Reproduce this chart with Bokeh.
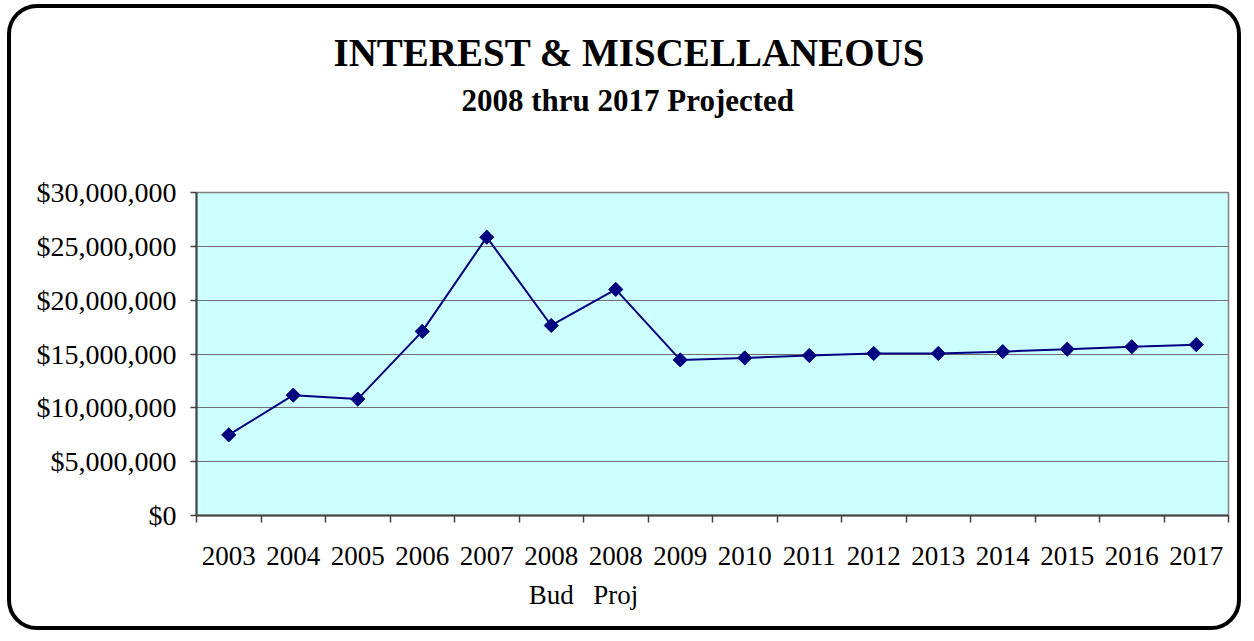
from bokeh.plotting import figure
from bokeh.models import Range1d, FixedTicker, NumeralTickFormatter, Title
from bokeh.embed import file_html
from bokeh.resources import INLINE

# Revenue categories (years; 2008 split into budget and projection)
categories = ["2003", "2004", "2005", "2006", "2007", "2008\nBud", "2008\nProj",
              "2009", "2010", "2011", "2012", "2013", "2014", "2015", "2016", "2017"]
revenue = [7.49e6, 11.18e6, 10.81e6, 17.10e6, 25.85e6, 17.65e6, 21.0e6,
           14.45e6, 14.64e6, 14.86e6, 15.05e6, 15.05e6, 15.22e6, 15.45e6, 15.67e6, 15.87e6]
y_ticks = [0, 5e6, 10e6, 15e6, 20e6, 25e6, 30e6]

n = len(categories)
centers = [i + 0.5 for i in range(n)]
bounds = list(range(n + 1))

p = figure(width=1234, height=626,
           x_range=Range1d(0, n), y_range=Range1d(0, 30e6),
           output_backend="svg", toolbar_location=None,
           min_border_left=185, min_border_right=17,
           min_border_top=184, min_border_bottom=119,
           background_fill_color="#CCFFFF", border_fill_color=None,
           outline_line_color="#808080", outline_line_width=1.5)
p.styles = {"border": "4px solid black", "border-radius": "30px",
            "margin-left": "7px", "margin-top": "4px"}

SERIF = "Liberation Serif"

# x axis: labels at category centres, tick marks on the boundaries
xa = p.xaxis[0]
xa.ticker = FixedTicker(ticks=centers, minor_ticks=bounds)
xa.major_label_overrides = {c: lab for c, lab in zip(centers, categories)}
xa.major_tick_in = 0
xa.major_tick_out = 0
xa.minor_tick_in = 0
xa.minor_tick_out = 7
xa.minor_tick_line_color = "#404040"
xa.minor_tick_line_width = 1.5
xa.axis_line_color = "#404040"
xa.axis_line_width = 2
xa.major_label_text_font = SERIF
xa.major_label_text_font_size = "27px"
xa.major_label_text_color = "black"
xa.major_label_text_line_height = 1.3
xa.major_label_standoff = 18

ya = p.yaxis[0]
ya.ticker = FixedTicker(ticks=y_ticks)
ya.formatter = NumeralTickFormatter(format="$0,0")
ya.minor_tick_line_color = None
ya.major_tick_in = 0
ya.major_tick_out = 6
ya.major_tick_line_color = "#404040"
ya.major_tick_line_width = 1.5
ya.axis_line_color = "#404040"
ya.axis_line_width = 2
ya.major_label_text_font = SERIF
ya.major_label_text_font_size = "28px"
ya.major_label_text_color = "black"
ya.major_label_standoff = 14

p.xgrid.grid_line_color = None
p.ygrid.ticker = FixedTicker(ticks=y_ticks)
p.ygrid.grid_line_color = "#707070"
p.ygrid.grid_line_width = 1.2

p.line(centers, revenue, line_color="#000080", line_width=2)
p.scatter(centers, revenue, marker="square", angle=0.7853981634, size=10,
          fill_color="#000080", line_color="#000080")

# Title block above the plot; later additions stack further up.
# A blank first entry opens the gap between the subtitle and the frame.
p.add_layout(Title(text=" ", text_font_size="10px", standoff=62), "above")
p.add_layout(Title(text="2008 thru 2017 Projected", text_font=SERIF,
                   text_font_style="bold", text_font_size="31px",
                   text_color="black", align="left", offset=265,
                   standoff=0), "above")
p.add_layout(Title(text="INTEREST & MISCELLANEOUS", text_font=SERIF,
                   text_font_style="bold", text_font_size="39px",
                   text_color="black", align="left", offset=137,
                   standoff=14), "above")

open("out.html", "w").write(file_html(p, INLINE))
